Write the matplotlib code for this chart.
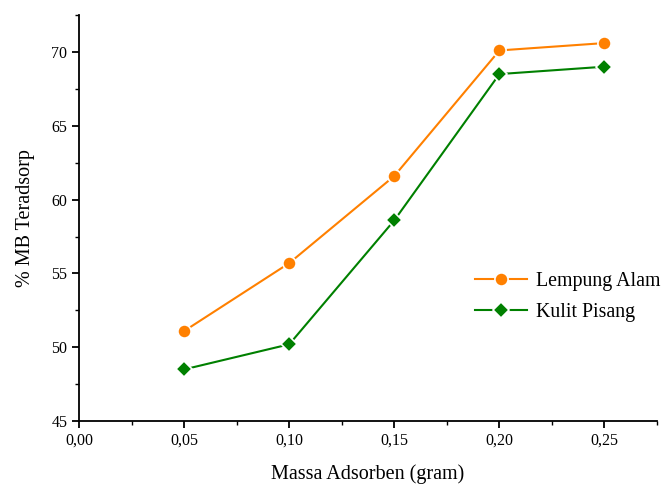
import matplotlib
matplotlib.use('Agg')
import matplotlib.pyplot as plt
from matplotlib.ticker import MultipleLocator, FuncFormatter

massa = [0.05, 0.10, 0.15, 0.20, 0.25]
lempung_alam = [51.1, 55.7, 61.6, 70.1, 70.6]
kulit_pisang = [48.5, 50.2, 58.6, 68.5, 69.0]

plt.rcParams['font.family'] = ['Liberation Serif', 'DejaVu Serif']

fig = plt.figure(figsize=(6.65, 4.84), dpi=100)
ax = fig.add_axes([0.119, 0.130, 0.869, 0.839])

ax.plot(massa, lempung_alam, color='#ff8000', marker='o', markersize=9.5,
        markeredgecolor='white', markeredgewidth=1.2, linewidth=1.5,
        label='Lempung Alam')
ax.plot(massa, kulit_pisang, color='#008000', marker='D', markersize=8.5,
        markeredgecolor='white', markeredgewidth=1.2, linewidth=1.5,
        label='Kulit Pisang')

ax.set_xlim(0, 0.275)
ax.set_ylim(45, 72.5)
ax.xaxis.set_major_locator(MultipleLocator(0.05))
ax.xaxis.set_minor_locator(MultipleLocator(0.025))
ax.yaxis.set_major_locator(MultipleLocator(5))
ax.yaxis.set_minor_locator(MultipleLocator(2.5))
ax.xaxis.set_major_formatter(FuncFormatter(lambda v, p: f'{v:.2f}'.replace('.', ',')))

for side in ['top', 'right']:
    ax.spines[side].set_visible(False)
for side in ['left', 'bottom']:
    ax.spines[side].set_linewidth(1.3)
ax.tick_params(which='major', direction='out', length=5, width=1.3, labelsize=11.5)
ax.tick_params(which='minor', direction='out', length=3, width=1.0)

ax.set_xlabel('Massa Adsorben (gram)', fontsize=14.5, labelpad=11)
ax.set_ylabel('% MB Teradsorp', fontsize=14.5, labelpad=12)

ax.legend(loc='center left', bbox_to_anchor=(0.685, 0.305), frameon=False,
          fontsize=14.3, handlelength=2.6, handletextpad=0.45,
          labelspacing=0.6, borderaxespad=0, borderpad=0)

fig.savefig('out.png', dpi=100)
